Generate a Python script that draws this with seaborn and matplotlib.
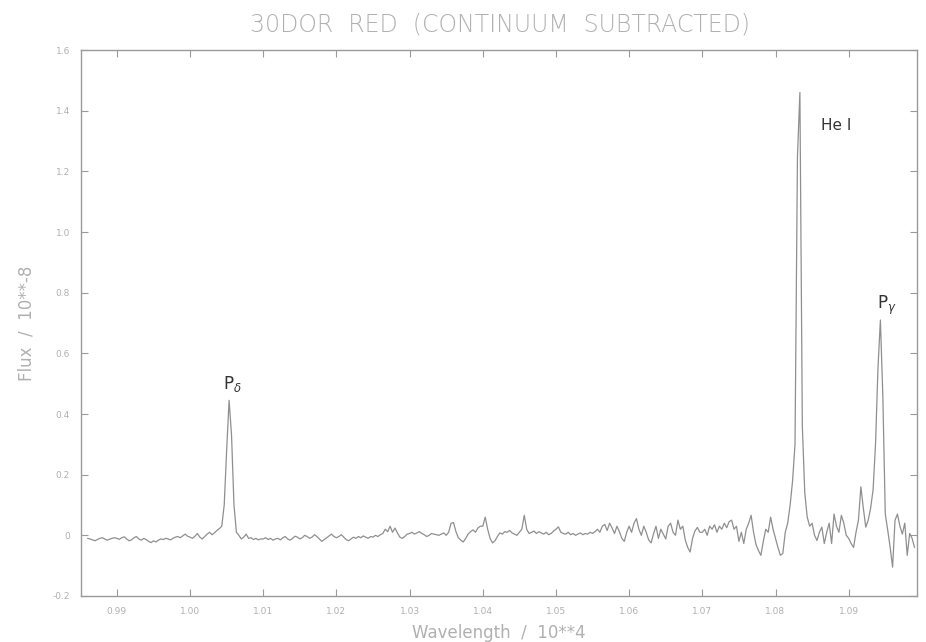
import numpy as np
import pandas as pd
import matplotlib
matplotlib.use("Agg")
import matplotlib.pyplot as plt
import seaborn as sns

# spectrum sampled every 1/3000 (x 10**4) starting at 0.986
wl_start = 0.986
wl_step = 1 / 3000

flux_0986 = [-0.010, -0.012, -0.015, -0.018, -0.014, -0.010, -0.008, -0.012, -0.016, -0.013, -0.010, -0.008]
flux_099 = [-0.010, -0.013, -0.008, -0.005, -0.012, -0.018, -0.015, -0.008, -0.004, -0.012,
            -0.016, -0.010, -0.014, -0.020, -0.024, -0.018, -0.022, -0.016, -0.012, -0.014,
            -0.010, -0.012, -0.015, -0.010, -0.006, -0.004, -0.008, -0.002, 0.004, -0.003]
flux_100 = [-0.006, -0.010, -0.003, 0.006, -0.006, -0.012, -0.004, 0.004, 0.010, 0.002,
            0.008, 0.016, 0.022, 0.030, 0.100, 0.280, 0.445, 0.330, 0.100, 0.010,
            0.000, -0.012, -0.006, 0.004, -0.010, -0.008, -0.014, -0.010, -0.015, -0.012]
flux_101 = [-0.012, -0.008, -0.014, -0.010, -0.016, -0.012, -0.010, -0.015, -0.008, -0.004,
            -0.012, -0.016, -0.010, -0.003, -0.006, -0.012, -0.008, 0.000, -0.004, -0.010,
            -0.006, 0.002, -0.004, -0.012, -0.020, -0.014, -0.008, -0.002, 0.004, -0.004]
flux_102 = [-0.008, -0.004, 0.002, -0.006, -0.014, -0.018, -0.012, -0.006, -0.010, -0.004,
            -0.008, -0.002, -0.006, -0.010, -0.004, -0.006, 0.000, -0.004, 0.002, 0.006,
            0.020, 0.012, 0.030, 0.010, 0.024, 0.008, -0.006, -0.010, -0.004, 0.004]
flux_103 = [0.006, 0.010, 0.004, 0.008, 0.012, 0.006, 0.002, -0.004, 0.000, 0.006,
            0.004, 0.002, 0.000, 0.004, 0.008, 0.000, 0.010, 0.040, 0.042, 0.012,
            -0.008, -0.016, -0.022, -0.010, 0.004, 0.012, 0.018, 0.010, 0.024, 0.030]
flux_104 = [0.030, 0.060, 0.020, -0.010, -0.025, -0.018, -0.004, 0.008, 0.004, 0.012,
            0.010, 0.016, 0.008, 0.004, 0.000, 0.010, 0.020, 0.066, 0.020, 0.006,
            0.010, 0.014, 0.006, 0.012, 0.008, 0.004, 0.010, 0.002, 0.006, 0.014]
flux_105 = [0.020, 0.028, 0.010, 0.006, 0.004, 0.010, 0.002, 0.006, 0.000, 0.004,
            0.008, 0.002, 0.006, 0.004, 0.010, 0.006, 0.012, 0.020, 0.010, 0.030,
            0.036, 0.016, 0.040, 0.024, 0.006, 0.030, 0.012, -0.010, -0.020, 0.010]
flux_106 = [0.030, 0.010, 0.040, 0.055, 0.020, 0.000, 0.030, 0.010, -0.015, -0.025,
            0.005, 0.030, -0.010, 0.020, 0.004, -0.012, 0.030, 0.040, 0.010, 0.000,
            0.050, 0.020, 0.030, -0.015, -0.040, -0.055, -0.010, 0.015, 0.026, 0.010]
flux_107 = [0.010, 0.020, 0.000, 0.030, 0.020, 0.035, 0.010, 0.030, 0.020, 0.040,
            0.025, 0.045, 0.050, 0.020, 0.030, -0.020, 0.010, -0.027, 0.020, 0.040,
            0.066, 0.010, -0.030, -0.050, -0.066, -0.020, 0.020, 0.010, 0.060, 0.020]
flux_108 = [-0.010, -0.040, -0.066, -0.060, 0.010, 0.040, 0.100, 0.180, 0.300, 1.250,
            1.460, 0.360, 0.140, 0.060, 0.030, 0.040, 0.000, -0.017, 0.010, 0.027,
            -0.027, 0.010, 0.040, -0.027, 0.070, 0.030, 0.010, 0.066, 0.040, 0.000]
flux_109 = [-0.010, -0.027, -0.040, 0.010, 0.050, 0.160, 0.090, 0.027, 0.050, 0.090,
            0.150, 0.300, 0.550, 0.710, 0.460, 0.070, 0.017, -0.040, -0.105, 0.050,
            0.070, 0.030, 0.004, 0.040, -0.066, 0.006, -0.010, -0.040]

flux = (flux_0986 + flux_099 + flux_100 + flux_101 + flux_102 + flux_103
        + flux_104 + flux_105 + flux_106 + flux_107 + flux_108 + flux_109)
spec = pd.DataFrame({"wavelength": wl_start + wl_step * np.arange(len(flux)),
                     "flux": flux})

x_ticks = [0.99, 1.00, 1.01, 1.02, 1.03, 1.04, 1.05, 1.06, 1.07, 1.08, 1.09]
y_ticks = [-0.2, 0, 0.2, 0.4, 0.6, 0.8, 1.0, 1.2, 1.4, 1.6]
y_labels = ["-0.2", "0", "0.2", "0.4", "0.6", "0.8", "1.0", "1.2", "1.4", "1.6"]

sns.set_style("ticks")
plt.rcParams["font.family"] = ["DejaVu Sans"]

grey = "#9a9a9a"
light = "#b0b0b0"

fig = plt.figure(figsize=(9.26, 6.42), dpi=100)
ax = fig.add_axes([0.0875, 0.0717, 0.9025, 0.8503])

sns.lineplot(data=spec, x="wavelength", y="flux", ax=ax, color="#8f8f8f",
             lw=0.9, estimator=None, sort=False)

ax.set_xlim(0.9851, 1.0993)
ax.set_ylim(-0.2, 1.6)
ax.set_xticks(x_ticks)
ax.set_xticklabels([f"{t:.2f}" for t in x_ticks])
ax.set_yticks(y_ticks)
ax.set_yticklabels(y_labels)
ax.tick_params(direction="in", length=5, width=0.8, color=grey, labelcolor=light,
               labelsize=6.5, top=True, right=True, pad=8)
for s in ax.spines.values():
    s.set_color(grey)
    s.set_linewidth(1.0)

ax.set_xlabel("Wavelength  /  10**4", color=light, fontsize=12, labelpad=6)
ax.set_ylabel("Flux  /  10**-8", color=light, fontsize=12, labelpad=12)
fig.text(0.54, 0.962, "30DOR  RED  (CONTINUUM  SUBTRACTED)", ha="center", va="center",
         fontsize=17, color=light, fontweight="light",
         family=["Liberation Sans Narrow", "DejaVu Sans"])

ax.text(1.0045, 0.465, r"P$_\delta$", fontsize=12, color="#333333", ha="left", va="bottom")
ax.text(1.0862, 1.35, "He I", fontsize=11, color="#333333", ha="left", va="center")
ax.text(1.0939, 0.72, r"P$_\gamma$", fontsize=12, color="#333333", ha="left", va="bottom")

fig.savefig("out.png", dpi=100)
